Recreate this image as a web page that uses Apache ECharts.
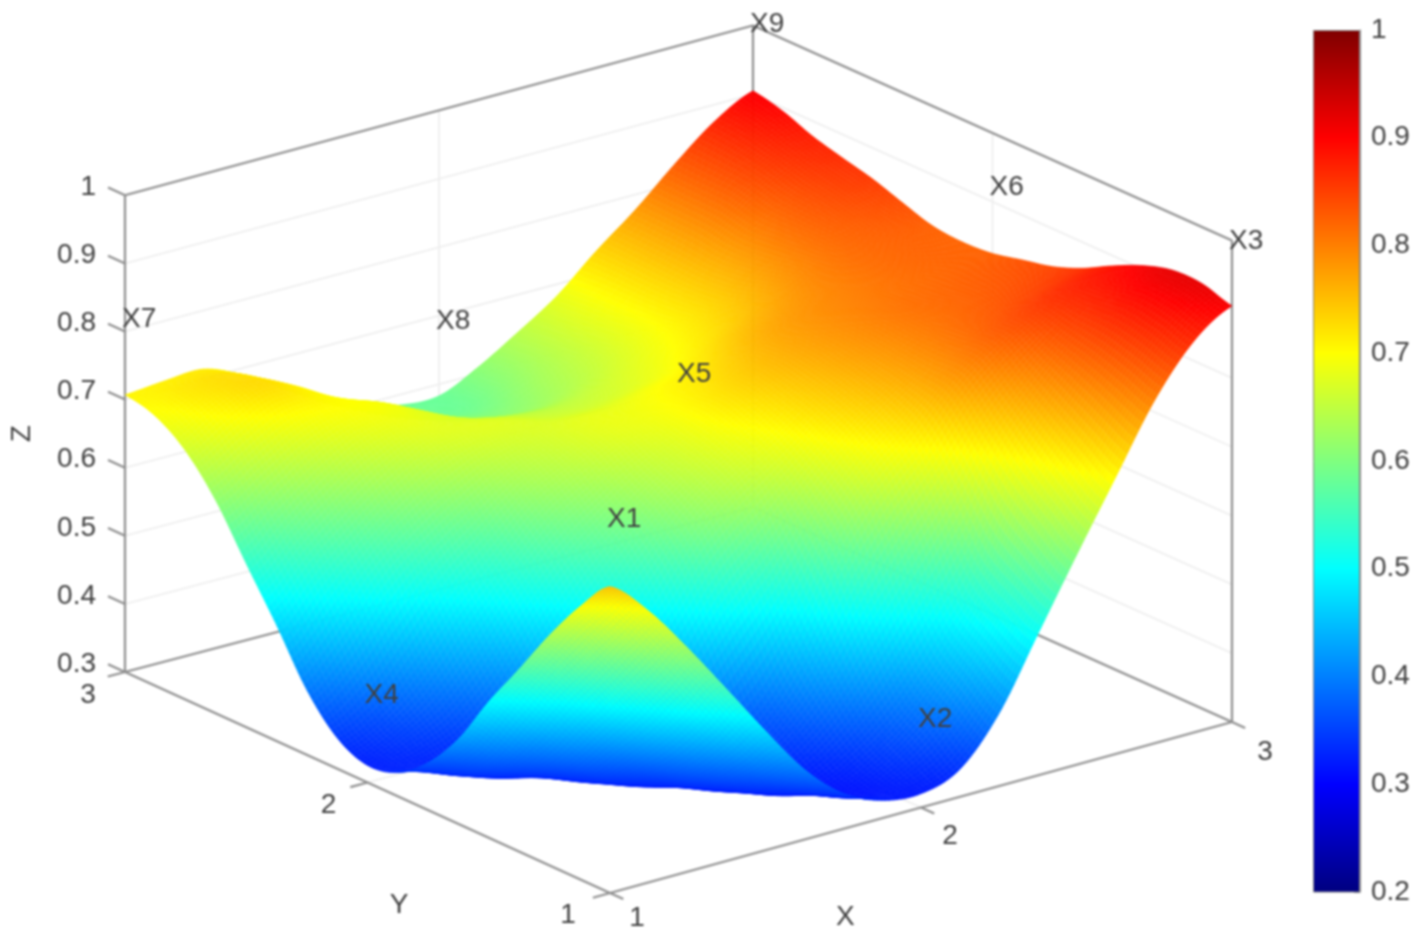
<!DOCTYPE html>
<html>
<head>
<meta charset="utf-8">
<style>
html,body{margin:0;padding:0;background:#fff;overflow:hidden}
#chart{width:1418px;height:941px;filter:blur(1px)}
</style>
<script src="https://cdn.jsdelivr.net/npm/echarts@6/dist/echarts.min.js"></script>
</head>
<body>
<div id="chart"></div>
<script>
// Axis ticks
const xTicks = [1, 2, 3];
const yTicks = [1, 2, 3];
const zTicks = [0.3, 0.4, 0.5, 0.6, 0.7, 0.8, 0.9, 1];
const barTicks = [0.2, 1];
// Surface samples; one list per Y step, X from 1 to 3
const gridX = [1,1.125,1.25,1.375,1.5,1.625,1.75,1.875,2,2.125,2.25,2.375,2.5,2.625,2.75,2.875,3];
const gridY = [1,1.125,1.25,1.375,1.5,1.625,1.75,1.875,2,2.125,2.25,2.375,2.5,2.625,2.75,2.875,3];
const z00 = [.750,.698,.628,.552,.475,.403,.352,.326,.320,.340,.405,.505,.605,.702,.798,.868,.905];
const z01 = [.700,.640,.565,.490,.420,.365,.330,.315,.335,.375,.440,.530,.640,.730,.815,.882,.918];
const z02 = [.638,.575,.500,.430,.370,.330,.312,.325,.360,.410,.480,.565,.680,.760,.830,.888,.918];
const z03 = [.568,.510,.440,.380,.335,.315,.325,.355,.410,.490,.570,.645,.730,.790,.840,.880,.905];
const z04 = [.500,.440,.380,.335,.316,.330,.355,.395,.475,.580,.655,.710,.775,.820,.850,.872,.885];
const z05 = [.425,.375,.340,.320,.335,.375,.430,.500,.560,.635,.695,.740,.780,.815,.835,.850,.862];
const z06 = [.370,.335,.320,.335,.375,.440,.510,.585,.635,.675,.720,.755,.785,.810,.825,.836,.845];
const z07 = [.335,.325,.335,.375,.440,.510,.570,.625,.665,.700,.735,.765,.790,.810,.820,.828,.835];
const z08 = [.325,.345,.375,.430,.505,.565,.610,.650,.680,.715,.745,.770,.790,.805,.815,.822,.825];
const z09 = [.345,.375,.430,.500,.555,.610,.645,.675,.690,.710,.735,.765,.785,.800,.815,.822,.822];
const z10 = [.395,.450,.520,.570,.610,.645,.665,.680,.685,.700,.715,.745,.770,.795,.815,.824,.826];
const z11 = [.470,.530,.580,.625,.660,.675,.675,.665,.665,.675,.695,.720,.750,.785,.815,.830,.840];
const z12 = [.540,.590,.635,.670,.685,.675,.660,.650,.648,.660,.680,.705,.735,.775,.815,.840,.855];
const z13 = [.612,.650,.685,.700,.695,.670,.640,.625,.622,.640,.665,.695,.730,.770,.815,.848,.866];
const z14 = [.665,.700,.725,.710,.675,.645,.620,.605,.603,.628,.655,.690,.730,.775,.825,.860,.878];
const z15 = [.696,.718,.725,.700,.660,.630,.605,.590,.587,.615,.650,.688,.732,.777,.827,.870,.895];
const z16 = [.707,.712,.714,.690,.658,.627,.602,.585,.583,.610,.645,.683,.733,.778,.829,.875,.905];
const zRows = [z00,z01,z02,z03,z04,z05,z06,z07,z08,z09,z10,z11,z12,z13,z14,z15,z16];
// Point labels
const pointNames = ['X1','X2','X3','X4','X5','X6','X7','X8','X9'];
const pointX = [1,2,3,1,2,3,1,2,3];
const pointY = [1,1,1,2,2,2,3,3,3];
const pointLabelZ = [.85,.43,1.0,.43,.775,.923,.82,.694,1.003];
// Jet colour ramp
const jetStops = [[0,[0,0,127]],[.125,[0,0,255]],[.375,[0,255,255]],[.625,[255,255,0]],[.875,[255,0,0]],[1,[127,0,0]]];
const cMin = 0.2, cMax = 1;

function jet(z){
  const t = Math.max(0, Math.min(1, (z - cMin) / (cMax - cMin)));
  for (let k = 1; k < jetStops.length; k++){
    if (t <= jetStops[k][0]){
      const a = jetStops[k-1], b = jetStops[k], f = (t - a[0]) / (b[0] - a[0]);
      return 'rgb(' + a[1].map((c, n) => Math.round(c + (b[1][n] - c) * f)).join(',') + ')';
    }
  }
  return 'rgb(127,0,0)';
}
// Oblique view of the box: plane units measured from the front floor corner
function project(x, y, z){
  const dx = x - 1, dy = y - 1, dd = dx * dy / 4;
  return [311 * dx - 242.5 * dy + 6 * dd,
          85.5 * dx + 110.5 * dy - 6 * dd + (z - 0.3) * 681 * (1 + 0.005 * dx)];
}

const zLo = zTicks[0], zHi = zTicks[zTicks.length - 1];
const xLo = xTicks[0], xHi = xTicks[2], yLo = yTicks[0], yHi = yTicks[2];
const FRAME = '#8e8e8e', GRIDC = '#ededed', TEXTC = '#404040';
const segs = [];
// faint grid
zTicks.forEach(z => {
  segs.push([xLo,yHi,z,xHi,yHi,z,0]);
  segs.push([xHi,yLo,z,xHi,yHi,z,0]);
});
segs.push([2,yHi,zLo,2,yHi,zHi,0],[xHi,2,zLo,xHi,2,zHi,0],[2,yLo,zLo,2,yHi,zLo,0],[xLo,2,zLo,xHi,2,zLo,0]);
// box
segs.push(
  [xLo,yLo,zLo,xHi,yLo,zLo,1],[xLo,yLo,zLo,xLo,yHi,zLo,1],
  [xLo,yHi,zLo,xHi,yHi,zLo,1],[xHi,yLo,zLo,xHi,yHi,zLo,1],
  [xLo,yHi,zLo,xLo,yHi,zHi,1],[xHi,yLo,zLo,xHi,yLo,zHi,1],[xHi,yHi,zLo,xHi,yHi,zHi,1],
  [xLo,yHi,zHi,xHi,yHi,zHi,1],[xHi,yLo,zHi,xHi,yHi,zHi,1]
);
// ticks
zTicks.forEach(z => segs.push([xLo,yHi,z,xLo,yHi+0.07,z,1]));
yTicks.forEach(y => segs.push([xLo,y,zLo,xLo-0.055,y,zLo,1]));
xTicks.forEach(x => segs.push([x,yLo,zLo,x,yLo-0.055,zLo,1]));

const cells = [];
for (let i = gridX.length - 2; i >= 0; i--)
  for (let j = gridY.length - 2; j >= 0; j--) cells.push([i, j]);

// Smooth surface drawing between the samples
function cr(p0, p1, p2, p3, t){
  return 0.5 * (2*p1 + (p2-p0)*t + (2*p0-5*p1+4*p2-p3)*t*t + (3*p1-p0-3*p2+p3)*t*t*t);
}
function sampleZ(i, j, a, b){
  const col = [];
  for (let m = -1; m <= 2; m++){
    const row = zRows[Math.max(0, Math.min(gridY.length-1, j+m))];
    const at = n => row[Math.max(0, Math.min(gridX.length-1, i+n))];
    col.push(cr(at(-1), at(0), at(1), at(2), a));
  }
  return cr(col[0], col[1], col[2], col[3], b);
}
const SUB = 10;
function renderCell(params, api){
  const i = api.value(0), j = api.value(1);
  const x0 = gridX[i], x1 = gridX[i+1], y0 = gridY[j], y1 = gridY[j+1];
  const nodes = [];
  for (let a = 0; a <= SUB; a++){
    nodes.push([]);
    for (let b = 0; b <= SUB; b++){
      const z = sampleZ(i, j, a/SUB, b/SUB);
      nodes[a].push({z, p: api.coord(project(x0 + (x1-x0)*a/SUB, y0 + (y1-y0)*b/SUB, z))});
    }
  }
  const children = [];
  for (let a = SUB - 1; a >= 0; a--) for (let b = SUB - 1; b >= 0; b--){
    const q = [nodes[a][b], nodes[a+1][b], nodes[a+1][b+1], nodes[a][b+1]];
    const c = jet((q[0].z + q[1].z + q[2].z + q[3].z) / 4);
    children.push({type:'polygon', shape:{points:q.map(v => v.p)}, style:{fill:c, stroke:c, lineWidth:0.5}, silent:true});
  }
  return {type:'group', children};
}
function renderSeg(params, api){
  const a = api.coord(project(api.value(0), api.value(1), api.value(2)));
  const b = api.coord(project(api.value(3), api.value(4), api.value(5)));
  const major = api.value(6) === 1;
  return {type:'line', shape:{x1:a[0],y1:a[1],x2:b[0],y2:b[1]},
          style:{stroke: major ? FRAME : GRIDC, lineWidth: major ? 2.2 : 1.6}, silent:true};
}
const FONT = '28px "Liberation Sans", Arial, sans-serif';
const labels = [];
pointNames.forEach((n, k) => labels.push([pointX[k], pointY[k], pointLabelZ[k], n, -3, 1, 'left', 0]));
zTicks.forEach(z => labels.push([xLo, yHi, z, z === 1 ? '1' : z.toFixed(1), -29, -8, 'right', 0]));
yTicks.forEach((y, k) => labels.push([xLo, y, zLo, String(y), -[42,39,37][k], [22,23,23][k], 'center', 0]));
xTicks.forEach((x, k) => labels.push([x, yLo, zLo, String(x), [27,29,33][k], [25,29,30][k], 'center', 0]));
labels.push([xLo, yHi, 0.65, 'Z', -103, 0, 'center', 1]);
labels.push([xLo, 1.87, zLo, 'Y', 0, 108, 'center', 0]);
labels.push([1.75, yLo, zLo, 'X', 2, 88, 'center', 0]);
function renderLabel(params, api){
  const p = api.coord(project(api.value(0), api.value(1), api.value(2)));
  const r = labels[params.dataIndex];
  return {type:'text', x:p[0] + r[4], y:p[1] + r[5], rotation: r[7] ? Math.PI/2 : 0,
          style:{text:r[3], fill:TEXTC, font:FONT, align:r[6], verticalAlign:'middle'}, silent:true};
}

const chart = echarts.init(document.getElementById('chart'), null, {renderer:'canvas'});
chart.setOption({
  animation:false,
  backgroundColor:'#fff',
  grid:[
    {left:0, right:0, top:0, bottom:0},
    {left:1313, top:30, width:47, height:862}
  ],
  xAxis:[
    {type:'value', min:-610, max:808, show:false, gridIndex:0},
    {type:'category', data:[''], gridIndex:1, axisLine:{show:false}, axisTick:{show:false}, axisLabel:{show:false}}
  ],
  yAxis:[
    {type:'value', min:-48, max:893, show:false, gridIndex:0},
    {type:'value', min:barTicks[0], max:barTicks[1], interval:0.1, gridIndex:1, position:'right',
     splitLine:{show:false},
     axisLine:{show:true, lineStyle:{color:'#8a8a8a', width:1}},
     axisTick:{show:true, inside:true, length:6, lineStyle:{color:'#8a8a8a', width:1}},
     axisLabel:{margin:11, color:TEXTC, fontSize:28, fontFamily:'"Liberation Sans", Arial, sans-serif',
                formatter:v => Math.abs(v - 1) < 1e-6 ? '1' : v.toFixed(1)}}
  ],
  series:[
    {type:'custom', name:'frame', coordinateSystem:'cartesian2d', xAxisIndex:0, yAxisIndex:0, z:1,
     data:segs, renderItem:renderSeg, clip:false, silent:true, progressive:0},
    {type:'custom', name:'surface', coordinateSystem:'cartesian2d', xAxisIndex:0, yAxisIndex:0, z:2,
     data:cells, renderItem:renderCell, clip:false, silent:true, progressive:0},
    {type:'custom', name:'labels', coordinateSystem:'cartesian2d', xAxisIndex:0, yAxisIndex:0, z:3,
     data:labels.map(r => r.slice(0,3)), renderItem:renderLabel, clip:false, silent:true, progressive:0},
    {type:'bar', name:'colorbar', xAxisIndex:1, yAxisIndex:1, data:[barTicks[1]], barWidth:'100%', silent:true, z:2,
     itemStyle:{borderColor:'#8a8a8a', borderWidth:1,
       color:{type:'linear', x:0, y:1, x2:0, y2:0,
              colorStops:jetStops.map(s => ({offset:s[0], color:'rgb(' + s[1].join(',') + ')'}))}}}
  ]
});
</script>
</body>
</html>
